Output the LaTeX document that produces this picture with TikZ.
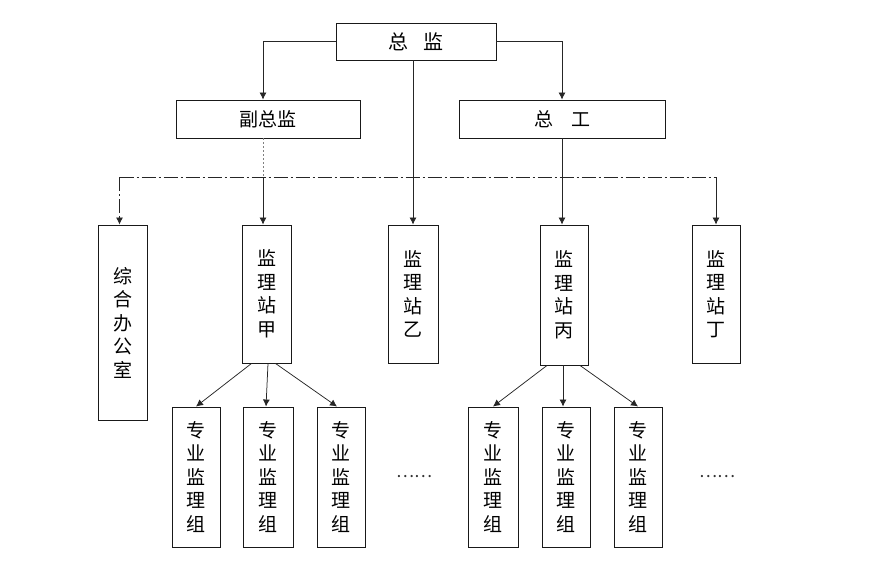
\documentclass[tikz,border=0pt]{standalone}
\usepackage{fontspec}
\newfontfamily\cjk{Noto Sans CJK SC}
\usetikzlibrary{arrows.meta,calc}
\begin{document}
\begin{tikzpicture}[x=1pt,y=-1pt,
  box/.style={draw=black!90,line width=0.9pt,rectangle,inner sep=0pt,anchor=center,
    font=\cjk\fontsize{19}{23.5}\selectfont,align=center,text=black},
  hbox/.style={box,minimum height=38pt},
  vbox/.style={box,minimum width=49pt},
  link/.style={draw=black!85,line width=0.75pt},
  arr/.style={link,-{Latex[length=7pt,width=7pt]}},
  dotdash/.style={link,dash pattern=on 14pt off 3pt on 2pt off 3pt},
  faint/.style={link,draw=black!50,dash pattern=on 2pt off 2pt}]
\useasboundingbox (0,0) rectangle (877,576);
% top level
\node[hbox,minimum width=160pt,minimum height=37pt,font=\cjk\fontsize{20}{24}\selectfont] (zj) at (416,41.5) {总\hspace{15pt}监};
\node[hbox,minimum width=184pt] (fzj) at (268,119) {副总监};
\node[hbox,minimum width=206pt] (zg) at (562,119) {总\hspace{18pt}工};
% stations
\node[vbox,minimum height=195pt] (zhb) at (122.5,322.5) {综\\合\\办\\公\\室};
\node[vbox,minimum height=138pt] (jia) at (266.5,294) {监\\理\\站\\甲};
\node[vbox,minimum height=138pt,minimum width=50pt] (yi) at (413,294) {监\\理\\站\\乙};
\node[vbox,minimum height=140pt,minimum width=48pt] (bing) at (564,295) {监\\理\\站\\丙};
\node[vbox,minimum height=138pt,minimum width=48pt] (ding) at (716,294) {监\\理\\站\\丁};
% groups
\node[vbox,minimum height=140pt,minimum width=48pt] (a1) at (196,477) {专\\业\\监\\理\\组};
\node[vbox,minimum height=140pt,minimum width=50pt] (a2) at (268,477) {专\\业\\监\\理\\组};
\node[vbox,minimum height=140pt,minimum width=48pt] (a3) at (341,477) {专\\业\\监\\理\\组};
\node[vbox,minimum height=140pt,minimum width=50pt] (b1) at (493,477) {专\\业\\监\\理\\组};
\node[vbox,minimum height=140pt,minimum width=48pt] (b2) at (566,477) {专\\业\\监\\理\\组};
\node[vbox,minimum height=140pt,minimum width=48pt] (b3) at (638,477) {专\\业\\监\\理\\组};
\node[font=\cjk\fontsize{17}{20}\selectfont,inner sep=0pt,text=black!80] (dotsA) at (414,477) {……};
\node[font=\cjk\fontsize{17}{20}\selectfont,inner sep=0pt,text=black!80] (dotsB) at (717,477) {……};
% coordinates
\coordinate (hl) at (0,177);
\coordinate (fdrop) at ([xshift=-5pt]fzj.south);
% top connectors
\draw[arr] (zj.west) -| ([xshift=-5pt]fzj.north);
\draw[arr] (zj.east) -| (zg.north);
\draw[arr] (yi.north |- zj.south) -- (yi.north);
% horizontal distribution line
\draw[faint] (fdrop) -- (fdrop |- hl);
\draw[dotdash] ([xshift=-3pt]zhb.north |- hl) -- (ding.north |- hl);
\draw[arr,dotdash] ([xshift=-3pt]zhb.north |- hl) -- ([xshift=-3pt]zhb.north);
\draw[arr] (fdrop |- hl) -- (fdrop |- jia.north);
\draw[arr] ([xshift=-2pt]bing.north |- zg.south) -- ([xshift=-2pt]bing.north);
\draw[arr] (ding.north |- hl) -- (ding.north);
% station to groups
\draw[arr] ([xshift=-15pt]jia.south) -- (a1.north);
\draw[arr] (a2.north |- jia.south) -- ([xshift=-2pt]a2.north);
\draw[arr] ([xshift=9pt]jia.south) -- ([xshift=-4pt]a3.north);
\draw[arr] ([xshift=-17pt]bing.south) -- (b1.north);
\draw[arr] ([xshift=-1pt]bing.south) -- ([xshift=-3pt]b2.north);
\draw[arr] ([xshift=16pt]bing.south) -- (b3.north);
\end{tikzpicture}
\end{document}
